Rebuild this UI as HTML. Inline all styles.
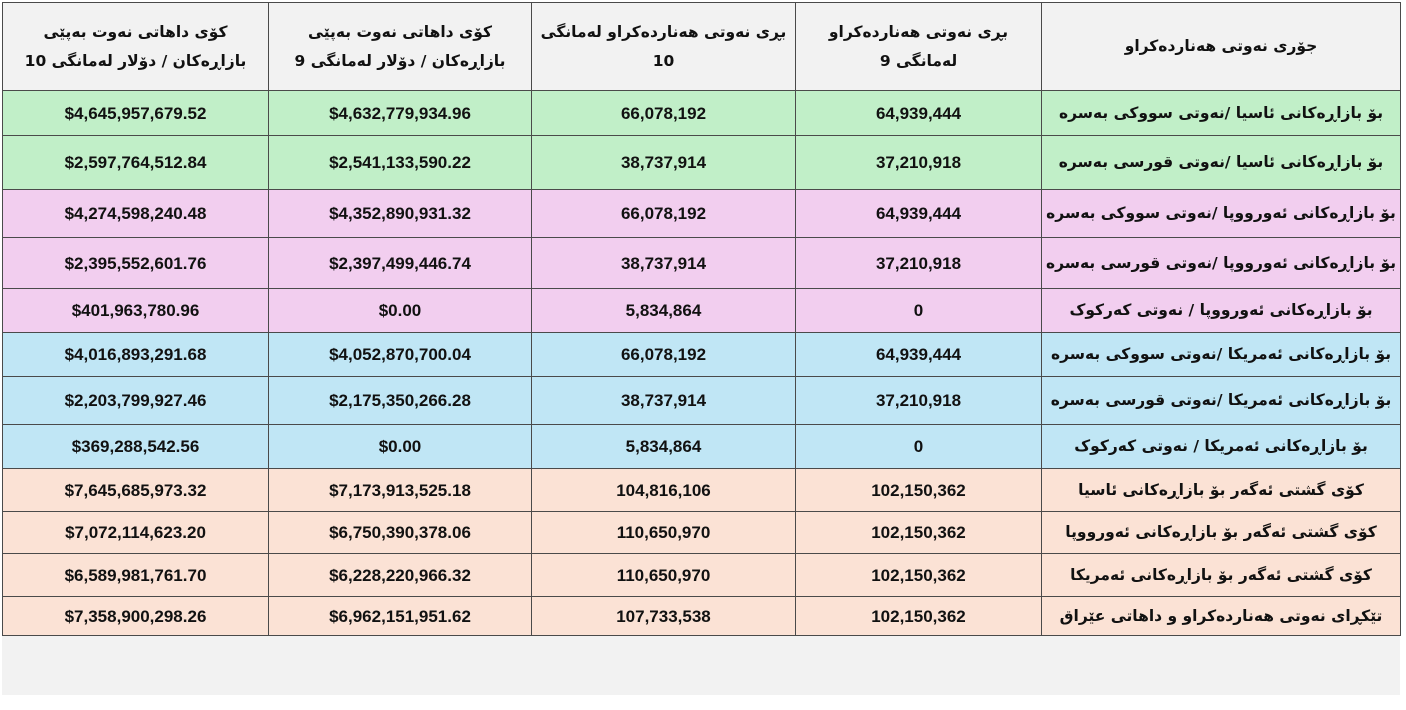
<!DOCTYPE html>
<html><head><meta charset="utf-8">
<style>
html,body{margin:0;padding:0;background:#fff;width:1406px;height:710px;overflow:hidden}
#wrap{position:relative;width:1406px;height:710px}
.cell{position:absolute;box-sizing:border-box;border:1px solid #4a4a4a;display:flex;align-items:center;justify-content:center;text-align:center;font-family:"Liberation Sans","DejaVu Sans",sans-serif;font-weight:bold;font-size:17px;color:#111;line-height:29px;white-space:nowrap;overflow:hidden}
.ar{direction:rtl;font-family:"DejaVu Sans","Liberation Sans",sans-serif;font-size:15.5px}
</style></head>
<body><div id="wrap">
<div style="position:absolute;left:2px;top:635px;width:1398px;height:60px;background:#f2f2f2"></div>
</div>
<script>
const colX=[2,268,531,795,1041,1400];
const rowY=[2,90,135,189,237,288,332,376,424,468,511,553,596,635];
const rowColors=['#f2f2f2','#c1efc8','#c1efc8','#f2ceef','#f2ceef','#f2ceef','#c0e6f5','#c0e6f5','#c0e6f5','#fbe2d5','#fbe2d5','#fbe2d5','#fbe2d5'];
const headers=['کۆی داهاتی نەوت بەپێی<br>بازاڕەکان / دۆلار لەمانگی 10','کۆی داهاتی نەوت بەپێی<br>بازاڕەکان / دۆلار لەمانگی 9','بڕی نەوتی هەناردەکراو لەمانگی<br>10','بڕی نەوتی هەناردەکراو<br>لەمانگی 9','جۆری نەوتی هەناردەکراو'];
const labels=['بۆ بازاڕەکانی ئاسیا /نەوتی سووکی بەسرە','بۆ بازاڕەکانی ئاسیا /نەوتی قورسی  بەسرە','بۆ بازاڕەکانی ئەورووپا /نەوتی سووکی بەسرە','بۆ بازاڕەکانی ئەورووپا /نەوتی قورسی  بەسرە','بۆ بازاڕەکانی ئەورووپا / نەوتی کەرکوک','بۆ بازاڕەکانی ئەمریکا /نەوتی سووکی بەسرە','بۆ بازاڕەکانی ئەمریکا /نەوتی قورسی  بەسرە','بۆ بازاڕەکانی ئەمریکا / نەوتی کەرکوک','کۆی گشتی ئەگەر بۆ بازاڕەکانی ئاسیا','کۆی گشتی ئەگەر بۆ بازاڕەکانی ئەورووپا','کۆی گشتی ئەگەر بۆ بازاڕەکانی ئەمریکا','تێکڕای  نەوتی هەناردەکراو و داهاتی عێراق'];
const qty9=['64,939,444','37,210,918','64,939,444','37,210,918','0','64,939,444','37,210,918','0','102,150,362','102,150,362','102,150,362','102,150,362'];
const qty10=['66,078,192','38,737,914','66,078,192','38,737,914','5,834,864','66,078,192','38,737,914','5,834,864','104,816,106','110,650,970','110,650,970','107,733,538'];
const rev9=['$4,632,779,934.96','$2,541,133,590.22','$4,352,890,931.32','$2,397,499,446.74','$0.00','$4,052,870,700.04','$2,175,350,266.28','$0.00','$7,173,913,525.18','$6,750,390,378.06','$6,228,220,966.32','$6,962,151,951.62'];
const rev10=['$4,645,957,679.52','$2,597,764,512.84','$4,274,598,240.48','$2,395,552,601.76','$401,963,780.96','$4,016,893,291.68','$2,203,799,927.46','$369,288,542.56','$7,645,685,973.32','$7,072,114,623.20','$6,589,981,761.70','$7,358,900,298.26'];
const wrap=document.getElementById('wrap');
function cell(r,c,html,ar){
  const d=document.createElement('div');
  d.className='cell'+(ar?' ar':'');
  d.style.left=colX[c]+'px';d.style.width=(colX[c+1]-colX[c]+1)+'px';
  d.style.top=rowY[r]+'px';d.style.height=(rowY[r+1]-rowY[r]+1)+'px';
  d.style.background=rowColors[r];
  d.innerHTML=html;
  return d;
}
headers.forEach((h,c)=>{
  const d=cell(0,c,h,true);
  
  
  wrap.appendChild(d);
});
labels.forEach((lab,i)=>{
  const r=i+1;
  const vals=[rev10[i],rev9[i],qty10[i],qty9[i]];
  vals.forEach((v,c)=>{
    const d=cell(r,c,v,false);
    
    
    wrap.appendChild(d);
  });
  const d=cell(r,4,lab,true);
  
  
  wrap.appendChild(d);
});
</script>
</body></html>
